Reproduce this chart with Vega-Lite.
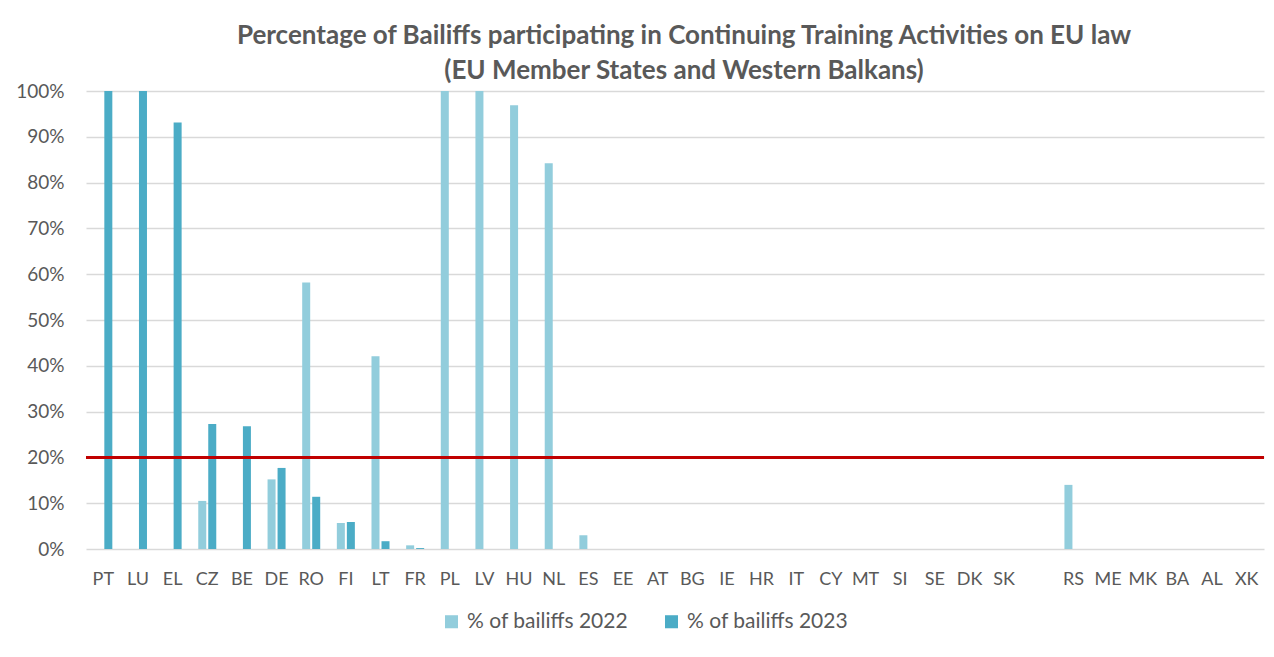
{
  "$schema": "https://vega.github.io/schema/vega-lite/v6.json",
  "autosize": {"type": "none"},
  "width": 1178,
  "height": 458,
  "padding": {"left": 86, "top": 91, "right": 10, "bottom": 108},
  "background": "white",
  "title": {
    "text": ["Percentage of Bailiffs participating in Continuing Training Activities on EU law", "(EU Member States and Western Balkans)"],
    "font": "Lato",
    "fontSize": 26,
    "fontWeight": "bold",
    "color": "#595959",
    "anchor": "middle",
    "dx": 9,
    "lineHeight": 35,
    "offset": -2
  },
  "data": {
    "values": [
      {"country": "PT", "series": "% of bailiffs 2022", "value": 0},
      {"country": "PT", "series": "% of bailiffs 2023", "value": 1.0},
      {"country": "LU", "series": "% of bailiffs 2022", "value": 0},
      {"country": "LU", "series": "% of bailiffs 2023", "value": 1.0},
      {"country": "EL", "series": "% of bailiffs 2022", "value": 0},
      {"country": "EL", "series": "% of bailiffs 2023", "value": 0.931},
      {"country": "CZ", "series": "% of bailiffs 2022", "value": 0.105},
      {"country": "CZ", "series": "% of bailiffs 2023", "value": 0.273},
      {"country": "BE", "series": "% of bailiffs 2022", "value": 0},
      {"country": "BE", "series": "% of bailiffs 2023", "value": 0.268},
      {"country": "DE", "series": "% of bailiffs 2022", "value": 0.152},
      {"country": "DE", "series": "% of bailiffs 2023", "value": 0.177},
      {"country": "RO", "series": "% of bailiffs 2022", "value": 0.582},
      {"country": "RO", "series": "% of bailiffs 2023", "value": 0.114},
      {"country": "FI", "series": "% of bailiffs 2022", "value": 0.057},
      {"country": "FI", "series": "% of bailiffs 2023", "value": 0.059},
      {"country": "LT", "series": "% of bailiffs 2022", "value": 0.421},
      {"country": "LT", "series": "% of bailiffs 2023", "value": 0.017},
      {"country": "FR", "series": "% of bailiffs 2022", "value": 0.008},
      {"country": "FR", "series": "% of bailiffs 2023", "value": 0.002},
      {"country": "PL", "series": "% of bailiffs 2022", "value": 1.0},
      {"country": "PL", "series": "% of bailiffs 2023", "value": 0},
      {"country": "LV", "series": "% of bailiffs 2022", "value": 1.0},
      {"country": "LV", "series": "% of bailiffs 2023", "value": 0},
      {"country": "HU", "series": "% of bailiffs 2022", "value": 0.969},
      {"country": "HU", "series": "% of bailiffs 2023", "value": 0},
      {"country": "NL", "series": "% of bailiffs 2022", "value": 0.842},
      {"country": "NL", "series": "% of bailiffs 2023", "value": 0},
      {"country": "ES", "series": "% of bailiffs 2022", "value": 0.030},
      {"country": "ES", "series": "% of bailiffs 2023", "value": 0},
      {"country": "EE", "series": "% of bailiffs 2022", "value": 0},
      {"country": "EE", "series": "% of bailiffs 2023", "value": 0},
      {"country": "AT", "series": "% of bailiffs 2022", "value": 0},
      {"country": "AT", "series": "% of bailiffs 2023", "value": 0},
      {"country": "BG", "series": "% of bailiffs 2022", "value": 0},
      {"country": "BG", "series": "% of bailiffs 2023", "value": 0},
      {"country": "IE", "series": "% of bailiffs 2022", "value": 0},
      {"country": "IE", "series": "% of bailiffs 2023", "value": 0},
      {"country": "HR", "series": "% of bailiffs 2022", "value": 0},
      {"country": "HR", "series": "% of bailiffs 2023", "value": 0},
      {"country": "IT", "series": "% of bailiffs 2022", "value": 0},
      {"country": "IT", "series": "% of bailiffs 2023", "value": 0},
      {"country": "CY", "series": "% of bailiffs 2022", "value": 0},
      {"country": "CY", "series": "% of bailiffs 2023", "value": 0},
      {"country": "MT", "series": "% of bailiffs 2022", "value": 0},
      {"country": "MT", "series": "% of bailiffs 2023", "value": 0},
      {"country": "SI", "series": "% of bailiffs 2022", "value": 0},
      {"country": "SI", "series": "% of bailiffs 2023", "value": 0},
      {"country": "SE", "series": "% of bailiffs 2022", "value": 0},
      {"country": "SE", "series": "% of bailiffs 2023", "value": 0},
      {"country": "DK", "series": "% of bailiffs 2022", "value": 0},
      {"country": "DK", "series": "% of bailiffs 2023", "value": 0},
      {"country": "SK", "series": "% of bailiffs 2022", "value": 0},
      {"country": "SK", "series": "% of bailiffs 2023", "value": 0},
      {"country": "RS", "series": "% of bailiffs 2022", "value": 0.140},
      {"country": "RS", "series": "% of bailiffs 2023", "value": 0},
      {"country": "ME", "series": "% of bailiffs 2022", "value": 0},
      {"country": "ME", "series": "% of bailiffs 2023", "value": 0},
      {"country": "MK", "series": "% of bailiffs 2022", "value": 0},
      {"country": "MK", "series": "% of bailiffs 2023", "value": 0},
      {"country": "BA", "series": "% of bailiffs 2022", "value": 0},
      {"country": "BA", "series": "% of bailiffs 2023", "value": 0},
      {"country": "AL", "series": "% of bailiffs 2022", "value": 0},
      {"country": "AL", "series": "% of bailiffs 2023", "value": 0},
      {"country": "XK", "series": "% of bailiffs 2022", "value": 0},
      {"country": "XK", "series": "% of bailiffs 2023", "value": 0}
    ]
  },
  "layer": [
    {
      "mark": {"type": "bar"},
      "encoding": {
        "x": {
          "field": "country",
          "type": "nominal",
          "sort": null,
          "scale": {
            "domain": ["PT","LU","EL","CZ","BE","DE","RO","FI","LT","FR","PL","LV","HU","NL","ES","EE","AT","BG","IE","HR","IT","CY","MT","SI","SE","DK","SK"," ","RS","ME","MK","BA","AL","XK"],
            "paddingInner": 0.48,
            "paddingOuter": 0.24
          },
          "axis": {
            "title": null,
            "labelAngle": 0,
            "labelFont": "Lato",
            "labelFontSize": 18,
            "labelColor": "#595959",
            "labelPadding": 21,
            "labelOverlap": false,
            "labelBound": false,
            "domain": false,
            "ticks": false,
            "grid": false
          }
        },
        "xOffset": {
          "field": "series",
          "type": "nominal",
          "scale": {"paddingInner": 0.2, "paddingOuter": 0}
        },
        "y": {
          "field": "value",
          "type": "quantitative",
          "scale": {"domain": [0, 1], "nice": false},
          "axis": {
            "title": null,
            "format": ".0%",
            "values": [0, 0.1, 0.2, 0.3, 0.4, 0.5, 0.6, 0.7, 0.8, 0.9, 1.0],
            "labelFont": "Lato",
            "labelFontSize": 19,
            "labelColor": "#595959",
            "labelPadding": 22,
            "domain": false,
            "ticks": false,
            "grid": true,
            "gridColor": "#d9d9d9",
            "gridWidth": 1.5
          }
        },
        "color": {
          "field": "series",
          "type": "nominal",
          "scale": {"domain": ["% of bailiffs 2022", "% of bailiffs 2023"], "range": ["#92CDDC", "#4BACC6"]},
          "legend": {
            "title": null,
            "orient": "none",
            "legendX": 355,
            "legendY": 520,
            "direction": "horizontal",
            "symbolType": "square",
            "symbolSize": 170,
            "symbolStrokeWidth": 0,
            "labelFont": "Lato",
            "labelFontSize": 21,
            "labelLimit": 400,
            "labelColor": "#595959",
            "columnPadding": 32,
            "labelOffset": 5
          }
        }
      }
    },
    {
      "mark": {"type": "rule", "color": "#C00000", "strokeWidth": 2},
      "encoding": {"y": {"datum": 0.2}}
    }
  ],
  "config": {
    "view": {"stroke": null}
  }
}
